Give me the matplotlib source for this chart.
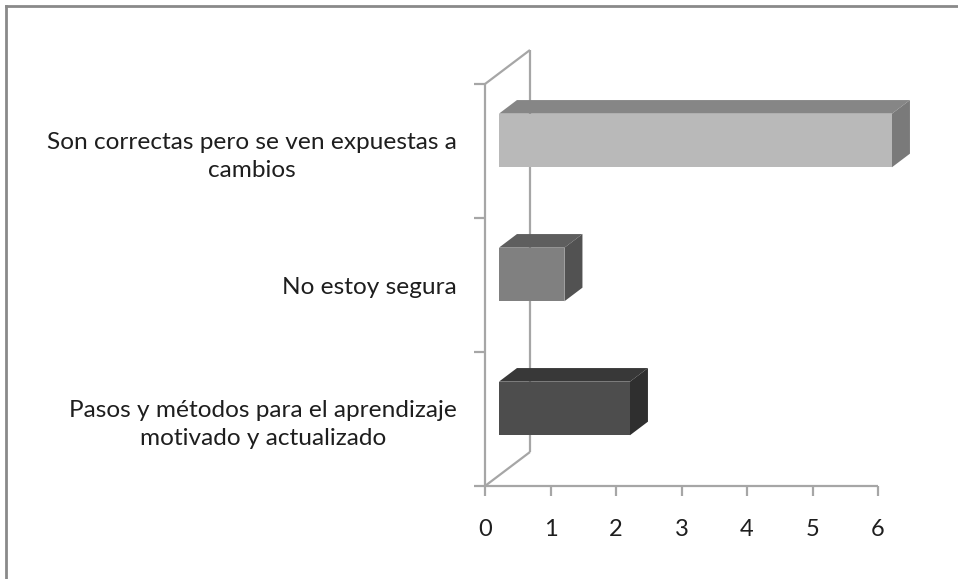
import numpy as np
import matplotlib.pyplot as plt
from matplotlib.patches import Polygon, Rectangle

# categories bottom to top, as drawn
categorias = ['Pasos y métodos para el aprendizaje\nmotivado y actualizado',
              'No estoy segura',
              'Son correctas pero se ven expuestas a\ncambios']
valores = [2, 1, 6]
xticks = [0, 1, 2, 3, 4, 5, 6]

# face colours (front, top, side) for each bar
caras = [('#4d4d4d', '#383838', '#2f2f2f'),
         ('#808080', '#5e5e5e', '#525252'),
         ('#b9b9b9', '#868686', '#7a7a7a')]

plt.rcParams['font.family'] = ['Lato', 'DejaVu Sans']

W, H = 958, 579
fig = plt.figure(figsize=(W / 100, H / 100), dpi=100)

# outer frame
fig.add_artist(plt.Line2D([6 / W, 6 / W], [0, 1 - 6 / H], color='#8a8a8a', lw=2))
fig.add_artist(plt.Line2D([6 / W, 1], [1 - 6 / H, 1 - 6 / H], color='#8a8a8a', lw=2))

ax = fig.add_axes([485 / W, 1 - 486 / H, (878 - 485) / W, (486 - 84) / H])
ax.set_xlim(0, 6)
ax.set_ylim(0, 3)
for s in ax.spines.values():
    s.set_visible(False)

# depth of the 3D box in data units
DX = 45 / 65.5
DY = 34 / 134.0
wall = '#a6a6a6'
lw = 1.6
kw = dict(color=wall, lw=lw, clip_on=False, zorder=1, solid_capstyle='butt')
ax.plot([0, 0], [0, 3], **kw)
ax.plot([0, 6], [0, 0], **kw)
ax.plot([0, DX], [3, 3 + DY], **kw)
ax.plot([0, DX], [0, DY], **kw)
ax.plot([DX, DX], [DY, 3 + DY], **kw)

# bars
f0, f1 = 0.31, 0.71
h = 0.40
for i, v in enumerate(valores):
    fr, tp, sd = caras[i]
    ox0, oy0 = f0 * DX, f0 * DY
    ox1, oy1 = f1 * DX, f1 * DY
    yb = i + 0.5 - h / 2
    yt = i + 0.5 + h / 2
    top = Polygon([(ox0, yt + oy0), (v + ox0, yt + oy0), (v + ox1, yt + oy1), (ox1, yt + oy1)],
                  closed=True, facecolor=tp, edgecolor='none', clip_on=False, zorder=3)
    side = Polygon([(v + ox0, yb + oy0), (v + ox0, yt + oy0), (v + ox1, yt + oy1), (v + ox1, yb + oy1)],
                   closed=True, facecolor=sd, edgecolor='none', clip_on=False, zorder=3)
    front = Rectangle((ox0, yb + oy0), v, h, facecolor=fr, edgecolor='none', clip_on=False, zorder=4)
    ax.add_patch(top)
    ax.add_patch(side)
    ax.add_patch(front)

# ticks
ax.set_xticks(xticks)
ax.set_xticklabels([str(t) for t in xticks])
ax.tick_params(axis='x', length=7, width=lw, color=wall, direction='out', pad=17,
               labelsize=17, labelcolor='#1e1e1e')
ax.set_yticks([0, 1, 2, 3])
ax.set_yticklabels([])
ax.tick_params(axis='y', which='major', length=8, width=lw, color=wall, direction='out')
ax.set_yticks([0.5, 1.5, 2.5], minor=True)
ax.set_yticklabels(categorias, minor=True)
ax.tick_params(axis='y', which='minor', length=0, pad=20, labelsize=17.6, labelcolor='#1e1e1e')
for lab in ax.get_yticklabels(minor=True):
    lab.set_horizontalalignment('right')
    lab.set_multialignment('center')
    lab.set_linespacing(1.4)

fig.savefig('out.png', dpi=100)
